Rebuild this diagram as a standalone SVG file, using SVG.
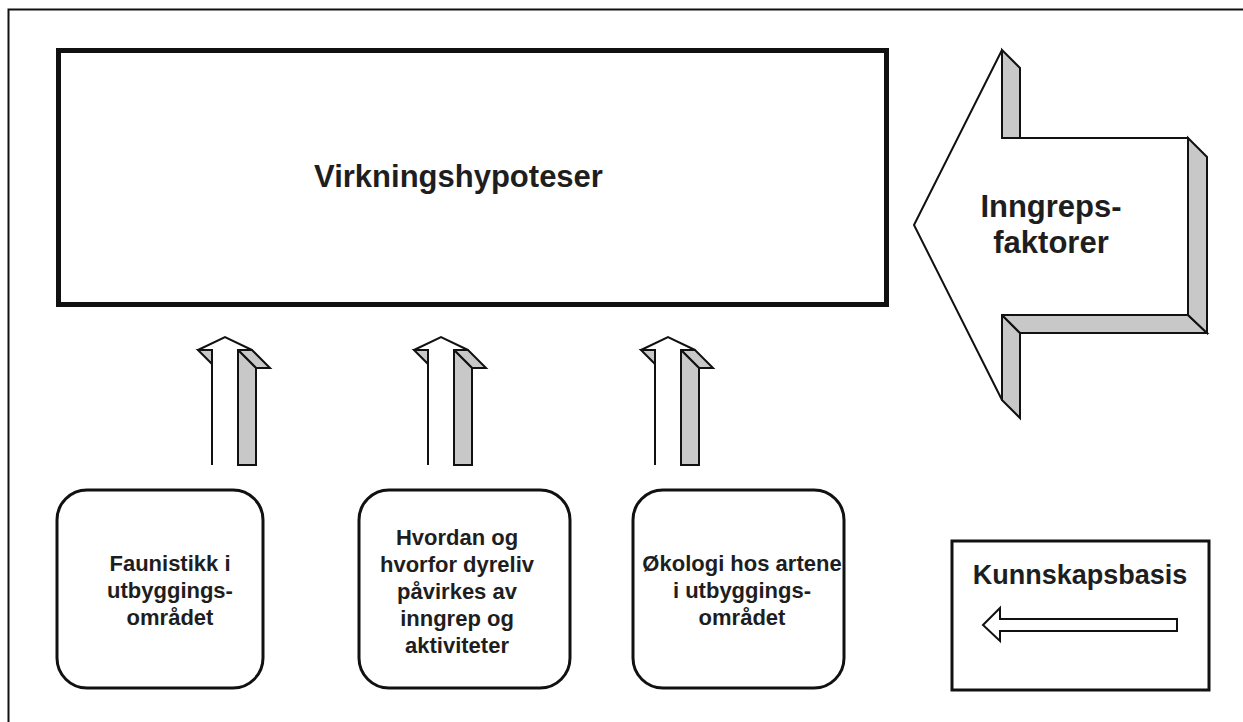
<svg xmlns="http://www.w3.org/2000/svg" width="1243" height="722" viewBox="0 0 1243 722">
<style>
.t{font-family:"Liberation Sans",Arial,sans-serif;font-weight:bold;fill:#1e1e1e;text-anchor:middle}
.big{font-size:31px}
.mid{font-size:27px}
.sm{font-size:22px}
.ln{stroke:#111;stroke-width:2;stroke-linejoin:miter;fill:none}
.w{fill:#fff;stroke:#111;stroke-width:2;stroke-linejoin:miter}
.g{fill:#c8c8c8;stroke:#111;stroke-width:2;stroke-linejoin:miter}
.rb{fill:#fff;stroke:#111;stroke-width:3}
</style>
<defs>
<g id="uparrow">
<path class="g" d="M238,350 L252,350 L270,368 L256,368 Z"/>
<path class="g" d="M238,350 L256,368 L256,465 L238,465 Z"/>
<path class="g" d="M198,350 L212,350 L212,364 Z"/>
<path class="w" d="M212,465 L212,350 L198,350 L225,337 L252,350 L238,350 L238,465"/>
</g>
</defs>
<rect width="1243" height="722" fill="#fff"/>
<rect id="frame" x="8.5" y="9.5" width="1250" height="730" fill="none" stroke="#111" stroke-width="2"/>

<g id="virkningshypoteser">
<rect x="58.5" y="50.5" width="828" height="254" fill="#fff" stroke="#111" stroke-width="5"/>
<text class="t big" x="458.5" y="187">Virkningshypoteser</text>
</g>

<g id="inngrepsfaktorer">
<path class="g" d="M1002,50 L1020,68 L1020,138 L1002,138 Z"/>
<path class="g" d="M1002,315 L1020,333 L1020,418 L1002,400 Z"/>
<path class="g" d="M1002,315 L1188,315 L1207,333 L1020,333 Z"/>
<path class="g" d="M1188,138 L1207,157 L1207,333 L1188,315 Z"/>
<path class="w" d="M914,225 L1002,50 L1002,138 L1188,138 L1188,315 L1002,315 L1002,400 Z"/>
<text class="t big" x="1051" y="217">Inngreps-</text>
<text class="t big" x="1051" y="253">faktorer</text>
</g>

<g id="connectors">
<use href="#uparrow"/>
<use href="#uparrow" transform="translate(216,0)"/>
<use href="#uparrow" transform="translate(443,0)"/>
</g>

<g id="faunistikk">
<rect class="rb" x="57" y="490" width="206" height="198" rx="30"/>
<text class="t sm" x="170" y="571">Faunistikk i</text>
<text class="t sm" x="170" y="598">utbyggings-</text>
<text class="t sm" x="170" y="625">området</text>
</g>

<g id="hvordan">
<rect class="rb" x="359" y="490" width="211" height="198" rx="30"/>
<text class="t sm" x="457" y="545">Hvordan og</text>
<text class="t sm" x="457" y="572">hvorfor dyreliv</text>
<text class="t sm" x="457" y="599">påvirkes av</text>
<text class="t sm" x="457" y="626">inngrep og</text>
<text class="t sm" x="457" y="653">aktiviteter</text>
</g>

<g id="okologi">
<rect class="rb" x="633" y="490" width="211" height="198" rx="30"/>
<text class="t sm" x="742" y="571">Økologi hos artene</text>
<text class="t sm" x="742" y="598">i utbyggings-</text>
<text class="t sm" x="742" y="625">området</text>
</g>

<g id="kunnskapsbasis">
<rect x="952" y="541" width="257" height="149" fill="#fff" stroke="#111" stroke-width="3"/>
<text class="t mid" x="1080" y="584">Kunnskapsbasis</text>
<path class="w" d="M983,625 L1000,608 L1000,619 L1177,619 L1177,631 L1000,631 L1000,641 Z" stroke-width="1.5"/>
</g>
</svg>
